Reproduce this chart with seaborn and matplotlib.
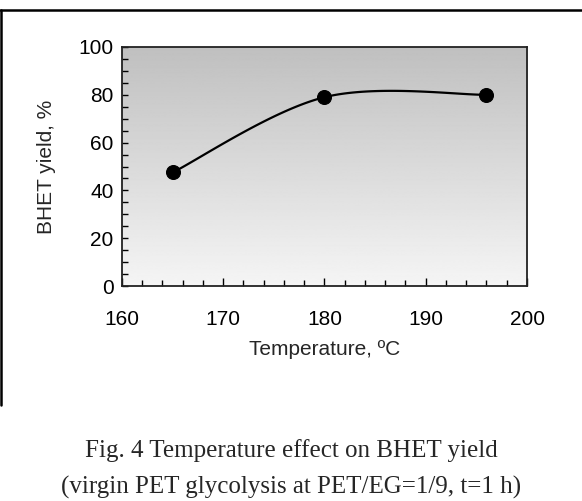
import numpy as np
import matplotlib
matplotlib.use("Agg")
import matplotlib.pyplot as plt
from matplotlib.lines import Line2D
from matplotlib.ticker import MultipleLocator
import seaborn as sns

# data
temperature = [165, 180, 196]
bhet_yield = [47.5, 79, 80]

x_ticks = [160, 170, 180, 190, 200]
y_ticks = [0, 20, 40, 60, 80, 100]
caption = ["Fig. 4 Temperature effect on BHET yield",
           "(virgin PET glycolysis at PET/EG=1/9, t=1 h)"]


def smooth_curve(xs, ys, n=60):
    # Excel-like smoothed line (Catmull-Rom as cubic Bezier)
    p = np.column_stack([xs, ys]).astype(float)
    p_ext = np.vstack([p[0], p, p[-1]])
    out = []
    t = np.linspace(0, 1, n)[:, None]
    for i in range(len(p) - 1):
        p0, p1 = p_ext[i + 1], p_ext[i + 2]
        c1 = p0 + (p_ext[i + 2] - p_ext[i]) / 6
        c2 = p1 - (p_ext[i + 3] - p_ext[i + 1]) / 6
        seg = ((1 - t) ** 3) * p0 + 3 * ((1 - t) ** 2) * t * c1 \
            + 3 * (1 - t) * t ** 2 * c2 + t ** 3 * p1
        out.append(seg if i == 0 else seg[1:])
    out = np.vstack(out)
    return out[:, 0], out[:, 1]


sns.set_theme(style="ticks")
plt.rcParams['font.family'] = ['Liberation Sans', 'DejaVu Sans']

fig = plt.figure(figsize=(5.82, 5.01), dpi=100)
ax = fig.add_axes([0.2096, 0.4291, 0.6959, 0.4771])

# gray gradient background of the plot area
grad = np.linspace(0.96, 0.75, 256)[:, None]
ax.imshow(grad, extent=(0, 1, 0, 1), transform=ax.transAxes, aspect="auto",
          cmap="gray", vmin=0, vmax=1, origin="lower", zorder=0)

sx, sy = smooth_curve(temperature, bhet_yield)
sns.lineplot(x=sx, y=sy, sort=False, estimator=None, color="black",
             linewidth=1.6, ax=ax, zorder=2)
sns.scatterplot(x=temperature, y=bhet_yield, color="black", s=100,
                edgecolor="black", ax=ax, zorder=3)

ax.set_xlim(160, 200)
ax.set_ylim(0, 100)
ax.set_xticks(x_ticks)
ax.set_yticks(y_ticks)
ax.xaxis.set_minor_locator(MultipleLocator(2))
ax.yaxis.set_minor_locator(MultipleLocator(5))
ax.tick_params(axis="both", which="both", direction="in", colors="black",
               labelsize=15, width=1)
ax.tick_params(axis="x", which="major", length=5.5, pad=17)
ax.tick_params(axis="x", which="minor", length=4)
ax.tick_params(axis="y", which="both", length=4, pad=6)
for s in ax.spines.values():
    s.set_color("#222222")
    s.set_linewidth(1.3)

ax.set_xlabel("Temperature, ºC", fontsize=15, labelpad=8)
ax.set_ylabel("BHET yield, %", fontsize=15, labelpad=16)

# caption in serif font
fig.text(0.5, 0.100, caption[0], ha="center", va="center", fontsize=18,
         family=["Liberation Serif", "DejaVu Serif"])
fig.text(0.5, 0.028, caption[1], ha="center", va="center", fontsize=18,
         family=["Liberation Serif", "DejaVu Serif"])

# frame around the figure (top and left edges visible)
fig.add_artist(Line2D([0, 1], [0.980, 0.980], transform=fig.transFigure,
                      color="black", linewidth=1.8))
fig.add_artist(Line2D([0.0017, 0.0017], [0.981, 0.192], transform=fig.transFigure,
                      color="black", linewidth=1.8))

fig.savefig("out.png", dpi=100, facecolor="white")
